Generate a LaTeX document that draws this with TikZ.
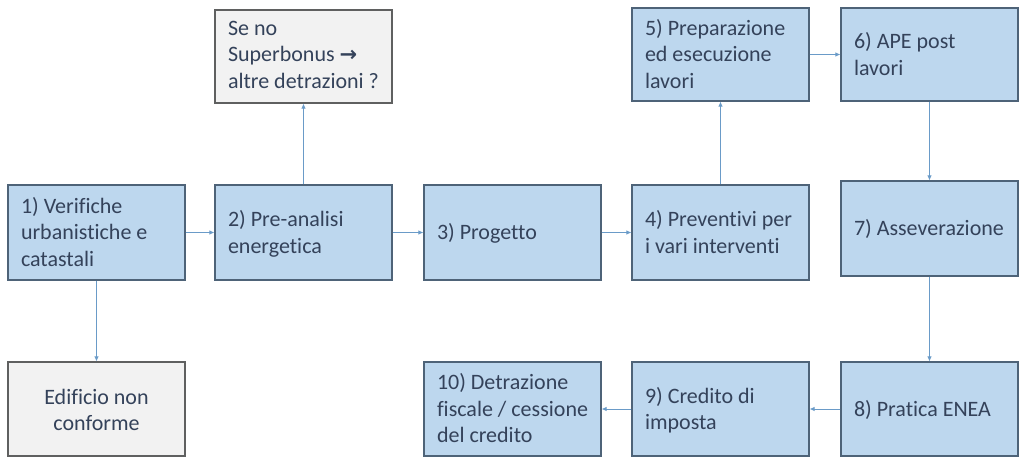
\documentclass[tikz,border=0pt]{standalone}
\usepackage{fontspec}
\setmainfont{Carlito}[Ligatures=CommonOff]
\newfontfamily\dejavu{DejaVu Sans}
\usetikzlibrary{arrows.meta}
\definecolor{boxfill}{HTML}{BDD7EE}
\definecolor{boxdraw}{HTML}{4E6378}
\definecolor{grayfill}{HTML}{F2F2F2}
\definecolor{graydraw}{HTML}{5F6060}
\definecolor{txt}{HTML}{34425A}
\definecolor{arr}{HTML}{6A9BC8}
\newcommand\leftlines[2][-2pt]{\raisebox{#1}[\height][\depth]{\makebox[151pt][l]{\begin{tabular}{@{}l@{}}#2\end{tabular}}}}
\newcommand\midlines[2][-2pt]{\raisebox{#1}[\height][\depth]{\makebox[151pt][c]{\begin{tabular}{@{}c@{}}#2\end{tabular}}}}
\begin{document}
\begin{tikzpicture}[x=1pt,y=-1pt,
  base/.style={rectangle, line width=1.1pt, minimum width=177pt, minimum height=95pt,
    inner xsep=13pt, inner ysep=0pt, text=txt,
    font=\fontsize{22}{26.5}\selectfont},
  bluebox/.style={base, draw=boxdraw, fill=boxfill},
  graybox/.style={base, draw=graydraw, fill=grayfill},
  conn/.style={draw=arr, line width=0.9pt, -{Latex[length=5pt,width=4.5pt]}}]
\useasboundingbox (0,0) rectangle (1024,463);
\fill[white] (0,0) rectangle (1024,463);
\node[bluebox] (n1) at (96.5,232.5) {\leftlines{1) Verifiche\\urbanistiche e\\catastali}};
\node[bluebox] (n2) at (303.5,232.5) {\leftlines{2) Pre-analisi\\energetica}};
\node[bluebox] (n3) at (512.5,232.5) {\leftlines{3) Progetto}};
\node[bluebox] (n4) at (720.5,232.5) {\leftlines{4) Preventivi per\\i vari interventi}};
\node[graybox, minimum height=93pt, inner xsep=10pt] (ns) at (303.5,56.5) {\leftlines[0pt]{Se no\\Superbonus {\dejavu\bfseries\fontsize{21}{22}\selectfont →}\\altre detrazioni ?}};
\node[bluebox, minimum height=93pt] (n5) at (720.5,54.5) {\leftlines{5) Preparazione\\ed esecuzione\\lavori}};
\node[bluebox, minimum height=93pt] (n6) at (929.5,54.5) {\leftlines{6) APE post\\lavori}};
\node[bluebox] (n7) at (929.5,228.5) {\leftlines{7) Asseverazione}};
\node[bluebox, minimum height=94pt] (n8) at (929.5,409) {\leftlines{8) Pratica ENEA}};
\node[bluebox, minimum height=94pt] (n9) at (720.5,409) {\leftlines{9) Credito di\\imposta}};
\node[bluebox, minimum height=94pt] (n10) at (512.5,409) {\leftlines{10) Detrazione\\fiscale / cessione\\del credito}};
\node[graybox, minimum height=94pt] (ne) at (96.5,409) {\midlines[-3pt]{Edificio non\\conforme}};
\draw[conn] (n1) -- (n2);
\draw[conn] (n2) -- (n3);
\draw[conn] (n3) -- (n4);
\draw[conn] (n1) -- (ne);
\draw[conn] (n2) -- (ns);
\draw[conn] (n4) -- (n5);
\draw[conn] (n5) -- (n6);
\draw[conn] (n6) -- (n7);
\draw[conn] (n7) -- (n8);
\draw[conn] (n8) -- (n9);
\draw[conn] (n9) -- (n10);
\end{tikzpicture}
\end{document}
